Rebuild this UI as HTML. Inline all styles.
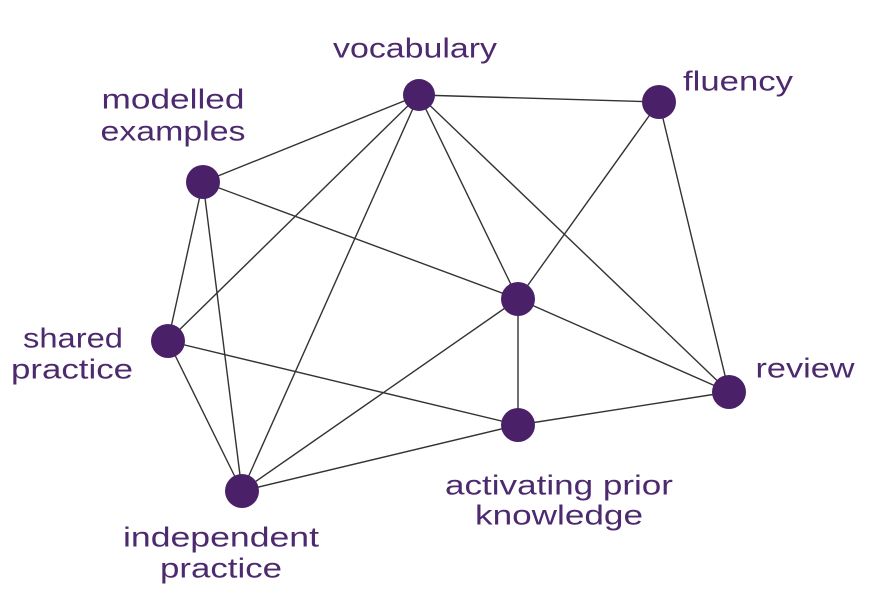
<!DOCTYPE html>
<html><head><style>
html,body{margin:0;padding:0;background:#fff;}
svg{display:block}
text{font-family:"Liberation Sans",sans-serif;font-size:28px;fill:#4d2a6e;text-anchor:middle;dominant-baseline:central}
</style></head><body>
<svg width="872" height="593" viewBox="0 0 872 593">
<g stroke="#333" stroke-width="1.4">
<line x1="419" y1="95" x2="659" y2="102"/>
<line x1="419" y1="95" x2="203" y2="182"/>
<line x1="419" y1="95" x2="168" y2="341"/>
<line x1="419" y1="95" x2="242" y2="491"/>
<line x1="419" y1="95" x2="518" y2="299"/>
<line x1="419" y1="95" x2="729" y2="392"/>
<line x1="659" y1="102" x2="518" y2="299"/>
<line x1="659" y1="102" x2="729" y2="392"/>
<line x1="203" y1="182" x2="518" y2="299"/>
<line x1="203" y1="182" x2="168" y2="341"/>
<line x1="203" y1="182" x2="242" y2="491"/>
<line x1="168" y1="341" x2="242" y2="491"/>
<line x1="168" y1="341" x2="518" y2="425"/>
<line x1="518" y1="299" x2="518" y2="425"/>
<line x1="518" y1="299" x2="729" y2="392"/>
<line x1="518" y1="299" x2="242" y2="491"/>
<line x1="518" y1="425" x2="729" y2="392"/>
<line x1="518" y1="425" x2="242" y2="491"/>
</g>
<g fill="#4a2168">
<circle cx="419" cy="95" r="16"/>
<circle cx="659" cy="102" r="17"/>
<circle cx="203" cy="182" r="17"/>
<circle cx="518" cy="299" r="17"/>
<circle cx="168" cy="341" r="17"/>
<circle cx="729" cy="392" r="17"/>
<circle cx="518" cy="425" r="17"/>
<circle cx="242" cy="491" r="17"/>
</g>
<g lengthAdjust="spacingAndGlyphs">
<text x="415" y="48" textLength="164" lengthAdjust="spacingAndGlyphs">vocabulary</text>
<text x="738" y="81" textLength="110" lengthAdjust="spacingAndGlyphs">fluency</text>
<text x="173" y="99" textLength="143" lengthAdjust="spacingAndGlyphs">modelled</text>
<text x="173" y="131" textLength="145" lengthAdjust="spacingAndGlyphs">examples</text>
<text x="73" y="338" textLength="100" lengthAdjust="spacingAndGlyphs">shared</text>
<text x="72" y="369" textLength="122" lengthAdjust="spacingAndGlyphs">practice</text>
<text x="805" y="368" textLength="99" lengthAdjust="spacingAndGlyphs">review</text>
<text x="559" y="485" textLength="228" lengthAdjust="spacingAndGlyphs">activating prior</text>
<text x="559" y="515" textLength="168" lengthAdjust="spacingAndGlyphs">knowledge</text>
<text x="221" y="537" textLength="196" lengthAdjust="spacingAndGlyphs">independent</text>
<text x="221" y="568" textLength="122" lengthAdjust="spacingAndGlyphs">practice</text>
</g>
</svg>
</body></html>
